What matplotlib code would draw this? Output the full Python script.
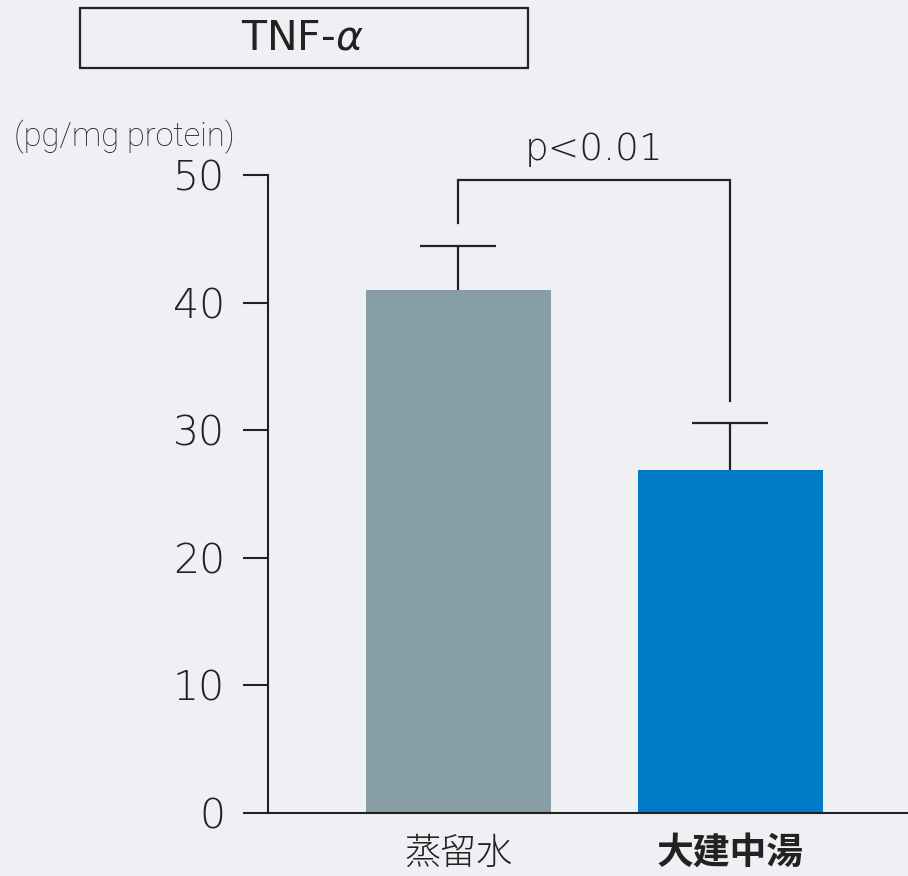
import matplotlib
matplotlib.use("Agg")
import matplotlib.pyplot as plt
from matplotlib.patches import Rectangle
import numpy as np

# Data
categories = ["蒸留水", "大建中湯"]
means = [41.0, 26.9]
errors = [3.45, 3.65]
bar_colors = ["#879ea6", "#007bc5"]
yticks = [0, 10, 20, 30, 40, 50]
title = "TNF-$\\alpha$"
unit_label = "(pg/mg protein)"
sig_label = "p<0.01"

W, H = 908, 876
bg = "#eef0f3"
ink = "#222222"

plt.rcParams["mathtext.fontset"] = "custom"
plt.rcParams["mathtext.rm"] = "DejaVu Sans"
plt.rcParams["mathtext.it"] = "DejaVu Sans:italic"

num_font = dict(family="DejaVu Sans", fontweight="light")

fig = plt.figure(figsize=(W / 100, H / 100), dpi=100, facecolor=bg)
ax = fig.add_axes([268 / W, 1 - 813 / H, (W - 268) / W, (813 - 175) / H])
ax.set_facecolor(bg)

x = np.arange(len(categories))
ax.bar(x, means, width=0.68, color=bar_colors, zorder=2)

# Error bars (upper only) with caps
cap_half = 0.14
for xi, m, e in zip(x, means, errors):
    ax.plot([xi, xi], [m, m + e], color=ink, lw=1.6, zorder=1, solid_capstyle="butt")
    ax.plot([xi - cap_half, xi + cap_half], [m + e, m + e], color=ink, lw=1.6,
            solid_capstyle="butt")

# Significance bracket
y_top = 49.6
y_left = means[0] + errors[0] + 1.8
y_right = means[1] + errors[1] + 1.7
ax.plot([x[0], x[0], x[1], x[1]], [y_left, y_top, y_top, y_right],
        color=ink, lw=1.6, clip_on=False, solid_joinstyle="miter")
ax.text((x[0] + x[1]) / 2, y_top + 1.0, sig_label, ha="center", va="bottom",
        fontsize=27, color=ink, **num_font)

ax.set_xlim(-0.699, 1.654)
ax.set_ylim(0, 50)
ax.set_yticks(yticks)
ax.set_yticklabels([str(t) for t in yticks], fontsize=29.5, color=ink, **num_font)
ax.tick_params(axis="y", direction="out", length=18, width=1.5, pad=13, colors=ink)
ax.tick_params(axis="x", length=0)
ax.set_xticks(x)
ax.set_xticklabels([])

for s in ["top", "right"]:
    ax.spines[s].set_visible(False)
ax.spines["left"].set_color(ink)
ax.spines["left"].set_linewidth(1.5)
ax.spines["bottom"].set_color(ink)
ax.spines["bottom"].set_linewidth(1.5)

# Category labels
ax.text(x[0], -1.7, categories[0], ha="center", va="top", fontsize=26,
        family="Noto Sans CJK JP", fontweight="light", color=ink)
ax.text(x[1], -1.7, categories[1], ha="center", va="top", fontsize=26.5,
        family="Noto Sans CJK JP", fontweight="bold", color=ink)

# Unit label
fig.text(14 / W, 1 - 146 / H, unit_label, ha="left", va="baseline", fontsize=23.5,
         family="Roboto", fontweight="light", color=ink)

# Title box
fig.patches.append(Rectangle((80 / W, 1 - 68 / H), 448 / W, 60 / H,
                             transform=fig.transFigure, fill=False,
                             edgecolor=ink, lw=1.6))
fig.text(302 / W, 1 - 38 / H, title, ha="center", va="center", fontsize=29.5,
         family="DejaVu Sans", color=ink)

fig.savefig("out.png", dpi=100, facecolor=bg)
